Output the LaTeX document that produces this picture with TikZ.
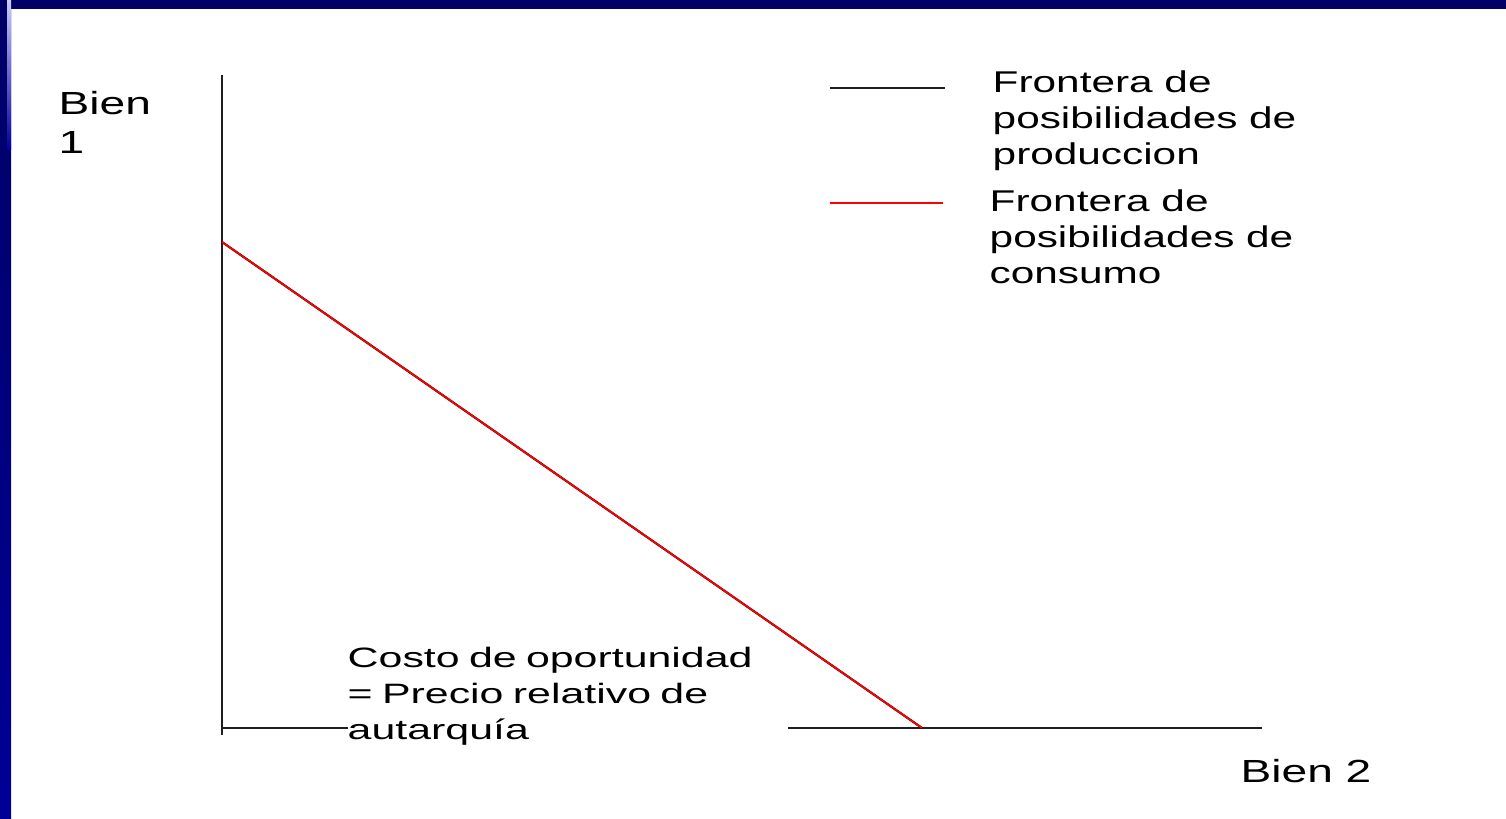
\documentclass[tikz,border=0pt]{standalone}
\usepackage{fontspec}
\setmainfont{Liberation Sans}
\newfontfamily\legendfont[FakeStretch=1.41]{Liberation Sans}
\newfontfamily\notefont[FakeStretch=1.53]{Liberation Sans}
\newfontfamily\axisfont[FakeStretch=1.44]{Liberation Sans}
\usepackage{tikz}
\usetikzlibrary{positioning}

\definecolor{navy}{HTML}{000066}
\definecolor{navyb}{HTML}{000096}
\definecolor{glow}{HTML}{0058FF}

\begin{document}
\begin{tikzpicture}[x=0.01cm, y=-0.01cm,
  axis/.style={line width=0.6pt, black!88},
  ppf/.style={line width=0.6pt, black},
  cpf/.style={line width=0.5pt, red},
  label/.style={inner sep=0pt, anchor=north west, align=left},
  legend/.style={label, font=\legendfont\fontsize{8.54}{10.24}\selectfont},
  note/.style={label, font=\notefont\fontsize{7.97}{10.24}\selectfont},
  axislabel/.style={label, font=\axisfont\fontsize{9.1}{11.1}\selectfont}]
\useasboundingbox (0,0) rectangle (1506,819);

% Frame
\fill[white] (0,0) rectangle (1506,819);
\fill[navy] (0,0) rectangle (1506,9);
\shade[top color=navy, bottom color=navyb] (0,9) rectangle (11,819);
\fill[navy] (0,0) rectangle (11,9);
\shade[top color=white!80!blue, middle color=glow, bottom color=navyb] (7,0) rectangle (11,150);

% Axes
\coordinate (ytop) at (222,75);
\coordinate (ybot) at (222,735);
\coordinate (origin) at (222,728);
\coordinate (xend) at (1262,728);
\draw[axis] (ytop) -- (ybot);
\draw[axis] (origin) -- (xend);
\node[axislabel] (bien1) at (58,91) {Bien\\1};
\node[axislabel] (bien2) at (1240,759) {Bien 2};

% Opportunity cost note
\node[note, fill=white, text width=4.4cm] (costo) at (347,646)
  {Costo de oportunidad\\= Precio relativo de\\autarquía};

% Frontiers
\coordinate (top1) at (222,242);
\coordinate (end2) at (922,728);
\draw[ppf] (top1) -- (end2);
\draw[cpf] (top1) -- (end2);

% Legend
\coordinate (keyppfA) at (830,88);
\coordinate (keyppfB) at (945,88);
\coordinate (keycpfA) at (830,203);
\coordinate (keycpfB) at (943,203);
\draw[axis] (keyppfA) -- (keyppfB);
\draw[line width=0.6pt, red] (keycpfA) -- (keycpfB);
\node[legend] (ppftext) at (992,70) {Frontera de\\posibilidades de\\produccion};
\node[legend] (cpftext) at (989,189) {Frontera de\\posibilidades de\\consumo};
\end{tikzpicture}
\end{document}
